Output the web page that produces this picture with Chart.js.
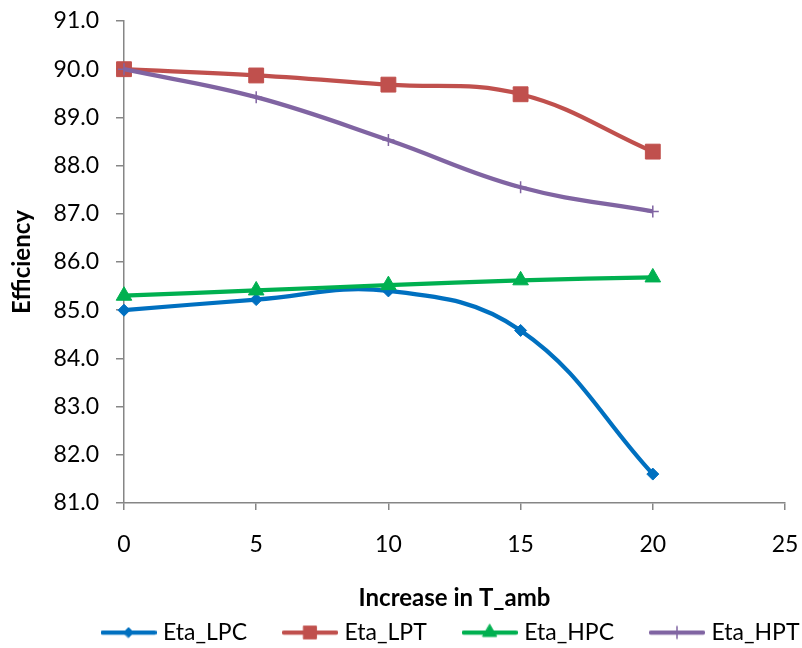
<!DOCTYPE html>
<html>
<head>
<meta charset="utf-8">
<script src="https://cdn.jsdelivr.net/npm/chart.js@4/dist/chart.umd.min.js"></script>
<style>
  html, body { margin: 0; padding: 0; background: #ffffff; }
  canvas { display: block; }
</style>
</head>
<body>
<canvas id="chart" width="802" height="648"></canvas>
<script>
// Temperature rise (x) and component efficiencies (y, %)
const tempIncrease = [0, 5, 10, 15, 20];
const etaLPC = [85.00, 85.22, 85.40, 84.58, 81.60];
const etaLPT = [90.00, 89.87, 89.68, 89.48, 88.29];
const etaHPC = [85.30, 85.41, 85.52, 85.62, 85.68];
const etaHPT = [90.00, 89.42, 88.53, 87.55, 87.05];
const seriesNames = ['Eta_LPC', 'Eta_LPT', 'Eta_HPC', 'Eta_HPT'];

const xAxisTitle = 'Increase in T_amb';
const yAxisTitle = 'Efficiency';

const FONT = "Lato, 'Open Sans', sans-serif";
const AXIS_GREY = '#868686';
const LINE_W = 4.25;
const TICK_SIZE = 23;
const TITLE_SIZE = 24;

const seriesValues = [etaLPC, etaLPT, etaHPC, etaHPT];
const seriesStyles = [
  { color: '#0070C0', point: 'rectRot',  radius: 6,    border: 1,   legendRadius: 5 },
  { color: '#C0504D', point: 'rect',     radius: 10.5, border: 1,   legendRadius: 9 },
  { color: '#00B050', point: 'triangle', radius: 9,    border: 1,   legendRadius: 8 },
  { color: '#8064A2', point: 'cross',    radius: 6,    border: 1.5, legendRadius: 6 }
];

// Legend swatch: a short line with the series marker in the middle
function legendSwatch(style) {
  const c = document.createElement('canvas');
  c.width = 56; c.height = 22;
  const g = c.getContext('2d');
  const cy = 11, cx = 28;
  g.strokeStyle = style.color;
  g.fillStyle = style.color;
  g.lineWidth = LINE_W;
  g.lineCap = 'round';
  g.beginPath(); g.moveTo(2, cy); g.lineTo(54, cy); g.stroke();
  const r = style.legendRadius;
  g.lineWidth = style.border;
  g.beginPath();
  if (style.point === 'rectRot') {
    g.moveTo(cx - r, cy); g.lineTo(cx, cy - r); g.lineTo(cx + r, cy); g.lineTo(cx, cy + r); g.closePath();
    g.fill(); g.stroke();
  } else if (style.point === 'rect') {
    const s = r * Math.SQRT1_2;
    g.rect(cx - s, cy - s, 2 * s, 2 * s); g.fill(); g.stroke();
  } else if (style.point === 'triangle') {
    g.moveTo(cx, cy - r); g.lineTo(cx + r * 0.866, cy + r * 0.5); g.lineTo(cx - r * 0.866, cy + r * 0.5); g.closePath();
    g.fill(); g.stroke();
  } else {
    g.moveTo(cx, cy - r); g.lineTo(cx, cy + r); g.moveTo(cx - r, cy); g.lineTo(cx + r, cy); g.stroke();
  }
  return c;
}

const datasets = seriesNames.map((name, i) => ({
  label: name,
  data: tempIncrease.map((x, j) => ({ x: x, y: seriesValues[i][j] })),
  borderColor: seriesStyles[i].color,
  backgroundColor: seriesStyles[i].color,
  borderWidth: LINE_W,
  pointStyle: seriesStyles[i].point,
  pointRadius: seriesStyles[i].radius,
  pointHoverRadius: seriesStyles[i].radius,
  pointBorderWidth: seriesStyles[i].border,
  pointBackgroundColor: seriesStyles[i].color,
  pointBorderColor: seriesStyles[i].color,
  tension: 0.4,
  fill: false,
  clip: false,
  order: seriesNames.length - i
}));

// Legend row sits a little right of centre and close to the x-axis title
const LEGEND_DX = 60;
const LEGEND_DY = -37;
const legendPlacement = {
  id: 'legendPlacement',
  afterLayout(chart) {
    const lg = chart.legend;
    if (!lg) return;
    lg.left += LEGEND_DX;
    lg.right += LEGEND_DX;
    lg.top += LEGEND_DY;
    lg.bottom = chart.height;
  }
};

new Chart(document.getElementById('chart'), {
  type: 'line',
  data: { datasets: datasets },
  plugins: [legendPlacement],
  options: {
    responsive: false,
    animation: false,
    devicePixelRatio: 1,
    layout: { padding: { left: 0, right: 17, top: 21, bottom: 0 } },
    plugins: {
      tooltip: { enabled: false },
      legend: {
        position: 'bottom',
        maxHeight: 30,
        labels: {
          usePointStyle: true,
          pointStyleWidth: 46,
          padding: 40,
          color: '#000000',
          font: { family: FONT, size: TICK_SIZE },
          generateLabels(chart) {
            return chart.data.datasets.map((ds, i) => ({
              text: ds.label,
              datasetIndex: i,
              pointStyle: legendSwatch(seriesStyles[i]),
              fillStyle: seriesStyles[i].color,
              strokeStyle: seriesStyles[i].color,
              lineWidth: 0,
              hidden: false,
              fontColor: '#000000'
            }));
          }
        }
      }
    },
    scales: {
      x: {
        type: 'linear',
        min: 0,
        max: 25,
        afterFit(scale) {
          scale.height = 115;
          scale.paddingLeft = 0;
          scale.paddingRight = 0;
        },
        ticks: {
          stepSize: 5,
          padding: 21,
          color: '#000000',
          font: { family: FONT, size: TICK_SIZE }
        },
        grid: {
          drawOnChartArea: false,
          drawTicks: true,
          tickLength: 7,
          color: AXIS_GREY,
          lineWidth: 1.5
        },
        border: { color: AXIS_GREY, width: 1.5 },
        title: {
          display: true,
          text: xAxisTitle,
          color: '#000000',
          font: { family: FONT, size: TITLE_SIZE, weight: 'bold' },
          padding: { top: 0, bottom: 5.5 }
        }
      },
      y: {
        type: 'linear',
        min: 81,
        max: 91,
        afterFit(scale) {
          scale.width = 124;
          scale.paddingTop = 0;
          scale.paddingBottom = 0;
        },
        ticks: {
          stepSize: 1,
          padding: 17,
          color: '#000000',
          font: { family: FONT, size: TICK_SIZE },
          callback: (v) => Number(v).toFixed(1)
        },
        grid: {
          drawOnChartArea: false,
          drawTicks: true,
          tickLength: 8,
          color: AXIS_GREY,
          lineWidth: 1.5
        },
        border: { color: AXIS_GREY, width: 1.5 },
        title: {
          display: true,
          text: yAxisTitle,
          color: '#000000',
          font: { family: FONT, size: TITLE_SIZE, weight: 'bold' },
          padding: { top: 7.5, bottom: 0 }
        }
      }
    }
  }
});
</script>
</body>
</html>
